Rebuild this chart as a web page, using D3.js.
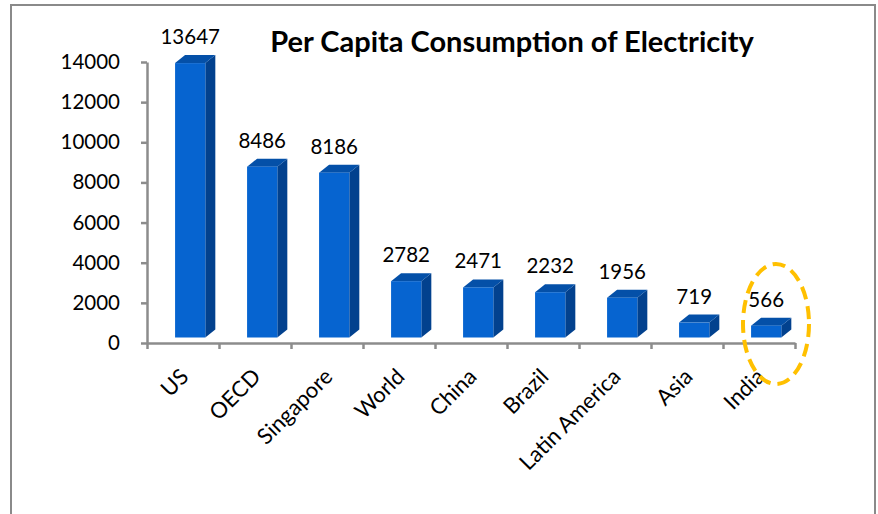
<!DOCTYPE html>
<html>
<head>
<meta charset="utf-8">
<script src="https://cdn.jsdelivr.net/npm/d3@7"></script>
<style>
  html, body { margin: 0; padding: 0; background: #fff; }
  svg { display: block; }
  text { font-family: Lato, "Open Sans", sans-serif; fill: #000; }
</style>
</head>
<body>
<div id="chart"></div>
<script>
const width = 878;
const height = 514;

// data
const categories = ['US', 'OECD', 'Singapore', 'World', 'China', 'Brazil', 'Latin America', 'Asia', 'India'];
const values = [13647, 8486, 8186, 2782, 2471, 2232, 1956, 719, 566];
const yTicks = [0, 2000, 4000, 6000, 8000, 10000, 12000, 14000];
const highlight = 'India';
const title = 'Per Capita Consumption of Electricity';

const data = categories.map((c, i) => ({cat: c, value: values[i]}));

const svg = d3.select('#chart').append('svg')
  .attr('width', width)
  .attr('height', height);

// chart frame
svg.append('rect')
  .attr('x', 11).attr('y', 5)
  .attr('width', 864).attr('height', 530)
  .attr('fill', 'none')
  .attr('stroke', '#8a8a8a')
  .attr('stroke-width', 2);

const x = d3.scaleBand().domain(categories).range([147, 795]).padding(0);
const y = d3.scaleLinear().domain([0, 14000]).range([343, 62]);
const xIdx = d3.scaleLinear().domain([0, categories.length]).range([147, 795]);

// 3d look
const depthX = 10, depthY = 8;
const lift = 6;
const bw = x.bandwidth();
const frontW = bw * 0.42;
const frontOff = bw * 0.39;

// y axis
const yAxis = svg.append('g')
  .attr('transform', 'translate(147,0)')
  .call(d3.axisLeft(y).tickValues(yTicks).tickFormat(d3.format('d'))
    .tickSize(6).tickSizeOuter(0).tickPadding(21));
yAxis.select('.domain').attr('stroke', '#8c8c8c').attr('stroke-width', 2.5);
yAxis.selectAll('.tick line').attr('stroke', '#8c8c8c').attr('stroke-width', 2.5);
yAxis.selectAll('.tick text')
  .style('font-size', '20.5px')
  .attr('fill', '#000');

// x axis (ticks on category boundaries)
const xAxis = svg.append('g')
  .attr('transform', 'translate(0,343)')
  .call(d3.axisBottom(xIdx).tickValues(d3.range(categories.length + 1)).tickSize(6).tickSizeOuter(0).tickFormat(''));
xAxis.select('.domain').attr('stroke', '#8c8c8c').attr('stroke-width', 2.5);
xAxis.selectAll('.tick line').attr('stroke', '#8c8c8c').attr('stroke-width', 2.5);

// category labels
svg.append('g').selectAll('text')
  .data(categories)
  .join('text')
    .attr('transform', d => `translate(${x(d) + bw / 2 + 7},${378}) rotate(-45)`)
    .attr('text-anchor', 'end')
    .style('font-size', '22px')
    .text(d => d);

// bars
const bars = svg.append('g').selectAll('g')
  .data(data)
  .join('g');

const fx = d => x(d.cat) + frontOff;
const barTop = d => y(d.value) - lift;
const barBottom = y(0) - 5.5;

// side face
bars.append('path')
  .attr('fill', '#02418e')
  .attr('d', d => {
    const x1 = fx(d) + frontW, t = barTop(d);
    return `M${x1},${t}L${x1 + depthX},${t - depthY}L${x1 + depthX},${barBottom - depthY}L${x1},${barBottom}Z`;
  });

// top face
bars.append('path')
  .attr('fill', '#0450a8')
  .attr('d', d => {
    const x0 = fx(d), x1 = fx(d) + frontW, t = barTop(d);
    return `M${x0},${t}L${x0 + depthX},${t - depthY}L${x1 + depthX},${t - depthY}L${x1},${t}Z`;
  });

// front face
bars.append('rect')
  .attr('fill', '#0664d0')
  .attr('x', fx)
  .attr('y', barTop)
  .attr('width', frontW)
  .attr('height', d => barBottom - barTop(d));

// value labels
bars.append('text')
  .attr('x', d => fx(d) + frontW / 2)
  .attr('y', d => barTop(d) - depthY - 11)
  .attr('text-anchor', 'middle')
  .style('font-size', '20.5px')
  .text(d => d.value);

// title
svg.append('text')
  .attr('x', 512)
  .attr('y', 52)
  .attr('text-anchor', 'middle')
  .style('font-size', '29px')
  .style('font-weight', 'bold')
  .text(title);

// dashed ellipse around the highlighted bar
svg.append('ellipse')
  .attr('cx', x(highlight) + bw / 2 + 17)
  .attr('cy', 324)
  .attr('rx', 33)
  .attr('ry', 60)
  .attr('fill', 'none')
  .attr('stroke', '#ffc000')
  .attr('stroke-width', 4)
  .attr('stroke-dasharray', '13,7');
</script>
</body>
</html>
